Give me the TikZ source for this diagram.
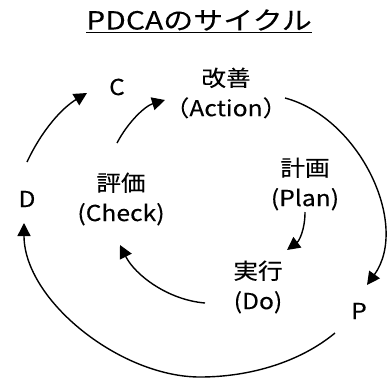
\documentclass[tikz,border=0pt]{standalone}
\usepackage{fontspec}
\setmainfont{Noto Sans CJK JP}[FakeStretch=1.12,FakeBold=0.15]
\newfontfamily\ttlfont{Noto Sans CJK JP}[FakeStretch=1.2,FakeBold=0.1]
\usetikzlibrary{arrows.meta}
\begin{document}
\begin{tikzpicture}[x=1pt,y=-1pt,
  lbl/.style={font=\fontsize{22}{30}\selectfont, align=center, inner sep=0pt},
  ltr/.style={font=\fontsize{22}{24}\selectfont, inner sep=0pt},
  arr/.style={line width=1.4pt, -{Triangle[length=13pt,width=13pt]}}]
\useasboundingbox (0,0) rectangle (388,381);
\node[inner sep=0pt] (title) at (199,21) {\ttlfont\fontsize{25}{28}\selectfont\underline{PDCAのサイクル}};
\node[ltr] (C) at (117,87) {C};
\node[ltr] (D) at (27,199) {D};
\node[ltr] (P) at (359,311) {P};
\node[lbl] (A) at (226,93) {改善\\（Action）};
\node[lbl] (Pl) at (305,184) {計画\\(Plan)};
\node[lbl] (Ch) at (121,199) {評価\\(Check)};
\node[lbl] (Do) at (258,287) {実行\\(Do)};
\coordinate (dc1) at (27,162); \coordinate (dc2) at (87,93);
\draw[arr] (dc1) .. controls (42,130) and (62,108) .. (dc2);
\coordinate (ca1) at (117,143); \coordinate (ca2) at (165,100);
\draw[arr] (ca1) .. controls (128,122) and (145,106) .. (ca2);
\coordinate (ap1) at (285,98); \coordinate (ap2) at (367,285);
\draw[arr] (ap1) .. controls (360,118) and (410,225) .. (ap2);
\coordinate (pd1) at (305,212); \coordinate (pd2) at (287,250);
\draw[arr] (pd1) .. controls (305,230) and (299,241) .. (pd2);
\coordinate (dc3) at (205,303); \coordinate (dc4) at (120,245);
\draw[arr] (dc3) .. controls (168,300) and (135,275) .. (dc4);
\coordinate (pb1) at (335,333); \coordinate (pb2) at (200,377); \coordinate (pb3) at (24,223);
\draw[arr] (pb1) .. controls (300,362) and (250,377) .. (pb2) .. controls (120,377) and (24,300) .. (pb3);
\end{tikzpicture}
\end{document}
